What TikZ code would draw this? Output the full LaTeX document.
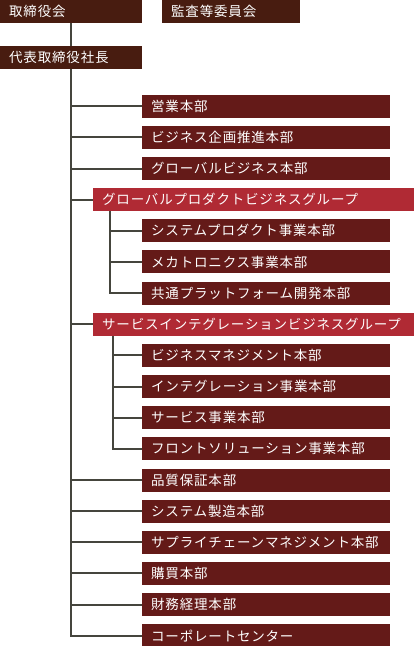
\documentclass[tikz,border=0pt]{standalone}
\usepackage{fontspec}
\setmainfont{Noto Sans CJK JP}
\newfontfamily\jpfont[LetterSpace=6]{Noto Sans CJK JP}
\usetikzlibrary{positioning}
\definecolor{topbrown}{RGB}{72,28,16}
\definecolor{deptred}{RGB}{100,26,24}
\definecolor{grpred}{RGB}{176,42,52}
\definecolor{linkgray}{RGB}{69,69,61}

\begin{document}
\begin{tikzpicture}[x=1pt, y=-1pt,
  box/.style={anchor=north west, minimum height=23pt, inner xsep=9pt, inner ysep=0pt,
    align=left, text=white, font=\jpfont\fontsize{13.5}{15}\selectfont},
  top/.style={box, fill=topbrown},
  dept/.style={box, fill=deptred, text width=230pt},
  grp/.style={box, fill=grpred, text width=303pt},
  link/.style={linkgray, line width=2pt}]
\useasboundingbox (0,0) rectangle (414,646);

% top of the chart
\node[top, text width=124pt] (board) at (0,0) {取締役会};
\node[top, text width=120pt] (audit) at (162,0) {監査等委員会};
\node[top, text width=124pt] (pres) at (0,46) {代表取締役社長};
\draw[link] (board.south) -- (pres.north);

% departments on the main line
\foreach \i/\nm/\txt in {0/eigyo/営業本部, 1/kikaku/ビジネス企画推進本部, 2/gbiz/グローバルビジネス本部,
  12/hinshitsu/品質保証本部, 13/seizo/システム製造本部, 14/scm/サプライチェーンマネジメント本部,
  15/kobai/購買本部, 16/zaimu/財務経理本部, 17/corp/コーポレートセンター} {
 \node[dept] (\nm) at (142,{94.5+\i*31.15}) {\txt};
 \draw[link] (pres.south |- \nm.west) -- (\nm.west);
}

% groups
\node[grp] (gprod) at (93,{94.5+3*31.15}) {グローバルプロダクトビジネスグループ};
\node[grp] (gserv) at (93,{94.5+7*31.15}) {サービスインテグレーションビジネスグループ};
\draw[link] (pres.south |- gprod.west) -- (gprod.west);
\draw[link] (pres.south |- gserv.west) -- (gserv.west);
\draw[link] (pres.south) |- (corp.west);

\coordinate (pa) at ([xshift=16.5]gprod.south west);
\coordinate (sa) at ([xshift=20]gserv.south west);
\foreach \i/\nm/\txt in {4/sysprod/システムプロダクト事業本部, 5/mecha/メカトロニクス事業本部,
  6/kyotsu/共通プラットフォーム開発本部} {
 \node[dept] (\nm) at (142,{94.5+\i*31.15}) {\txt};
 \draw[link] (pa |- \nm.west) -- (\nm.west);
}
\draw[link] (pa) |- (kyotsu.west);

\foreach \i/\nm/\txt in {8/bizman/ビジネスマネジメント本部, 9/integ/インテグレーション事業本部,
  10/service/サービス事業本部, 11/front/フロントソリューション事業本部} {
 \node[dept] (\nm) at (142,{94.5+\i*31.15}) {\txt};
 \draw[link] (sa |- \nm.west) -- (\nm.west);
}
\draw[link] (sa) |- (front.west);
\end{tikzpicture}
\end{document}
